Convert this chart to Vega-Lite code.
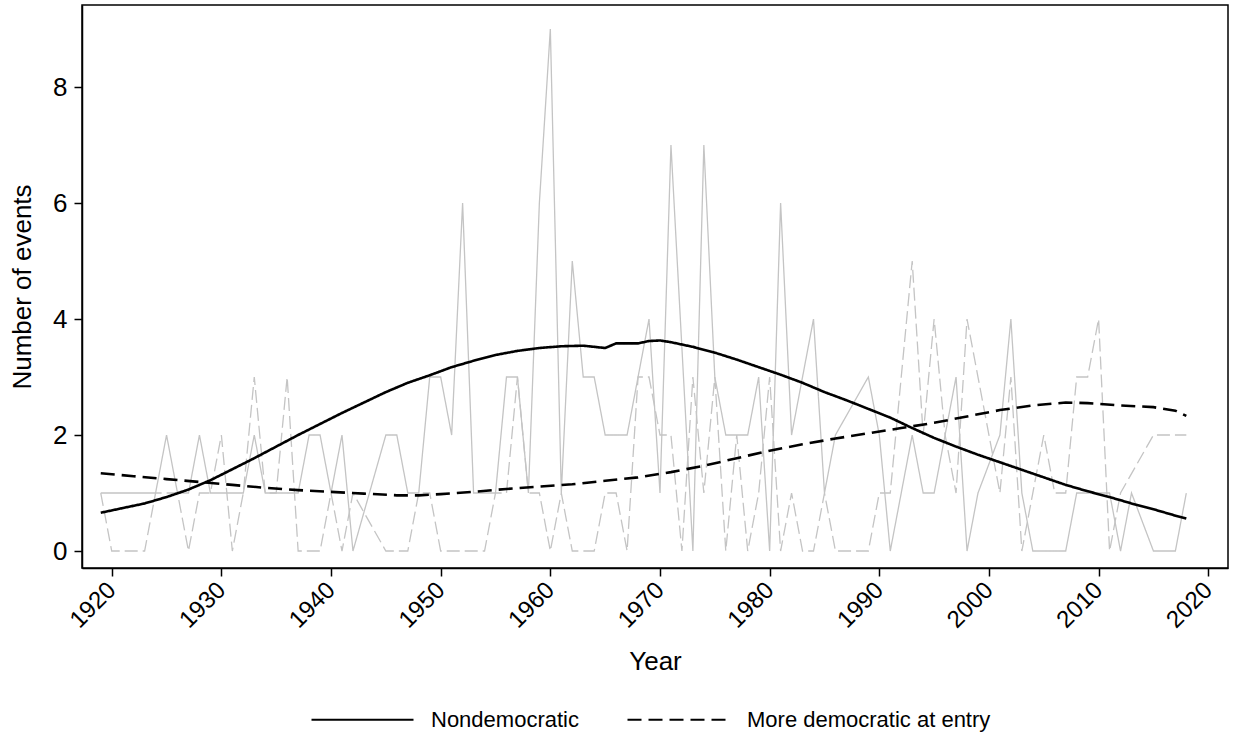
{
  "$schema": "https://vega.github.io/schema/vega-lite/v6.json",
  "width": 1146,
  "height": 563,
  "autosize": {"type": "none"},
  "padding": {"left": 82, "top": 5, "right": 9, "bottom": 167},
  "background": "white",
  "config": {
    "font": "Liberation Sans",
    "view": {"stroke": "black", "strokeWidth": 1.5},
    "axis": {
      "grid": false,
      "domainColor": "black",
      "domainWidth": 1.5,
      "tickColor": "black",
      "tickWidth": 1.5,
      "tickSize": 8,
      "labelColor": "black",
      "titleColor": "black",
      "labelFontSize": 24,
      "titleFontSize": 26,
      "titleFontWeight": "normal",
      "labelFont": "Liberation Sans",
      "titleFont": "Liberation Sans"
    },
    "legend": {
      "labelFont": "Liberation Sans",
      "labelFontSize": 22,
      "labelColor": "black",
      "labelLimit": 500
    }
  },
  "datasets": {
    "raw": [
      {"year": 1919, "value": 1, "series": "Nondemocratic"},
      {"year": 1920, "value": 1, "series": "Nondemocratic"},
      {"year": 1921, "value": 1, "series": "Nondemocratic"},
      {"year": 1922, "value": 1, "series": "Nondemocratic"},
      {"year": 1923, "value": 1, "series": "Nondemocratic"},
      {"year": 1924, "value": 1, "series": "Nondemocratic"},
      {"year": 1925, "value": 2, "series": "Nondemocratic"},
      {"year": 1926, "value": 1, "series": "Nondemocratic"},
      {"year": 1927, "value": 1, "series": "Nondemocratic"},
      {"year": 1928, "value": 2, "series": "Nondemocratic"},
      {"year": 1929, "value": 1, "series": "Nondemocratic"},
      {"year": 1930, "value": 1, "series": "Nondemocratic"},
      {"year": 1931, "value": 1, "series": "Nondemocratic"},
      {"year": 1932, "value": 1, "series": "Nondemocratic"},
      {"year": 1933, "value": 2, "series": "Nondemocratic"},
      {"year": 1934, "value": 1, "series": "Nondemocratic"},
      {"year": 1935, "value": 1, "series": "Nondemocratic"},
      {"year": 1936, "value": 1, "series": "Nondemocratic"},
      {"year": 1937, "value": 1, "series": "Nondemocratic"},
      {"year": 1938, "value": 2, "series": "Nondemocratic"},
      {"year": 1939, "value": 2, "series": "Nondemocratic"},
      {"year": 1940, "value": 1, "series": "Nondemocratic"},
      {"year": 1941, "value": 2, "series": "Nondemocratic"},
      {"year": 1942, "value": 0, "series": "Nondemocratic"},
      {"year": 1945, "value": 2, "series": "Nondemocratic"},
      {"year": 1946, "value": 2, "series": "Nondemocratic"},
      {"year": 1947, "value": 1, "series": "Nondemocratic"},
      {"year": 1948, "value": 1, "series": "Nondemocratic"},
      {"year": 1949, "value": 3, "series": "Nondemocratic"},
      {"year": 1950, "value": 3, "series": "Nondemocratic"},
      {"year": 1951, "value": 2, "series": "Nondemocratic"},
      {"year": 1952, "value": 6, "series": "Nondemocratic"},
      {"year": 1953, "value": 1, "series": "Nondemocratic"},
      {"year": 1954, "value": 1, "series": "Nondemocratic"},
      {"year": 1955, "value": 1, "series": "Nondemocratic"},
      {"year": 1956, "value": 3, "series": "Nondemocratic"},
      {"year": 1957, "value": 3, "series": "Nondemocratic"},
      {"year": 1958, "value": 1, "series": "Nondemocratic"},
      {"year": 1959, "value": 6, "series": "Nondemocratic"},
      {"year": 1960, "value": 9, "series": "Nondemocratic"},
      {"year": 1961, "value": 1, "series": "Nondemocratic"},
      {"year": 1962, "value": 5, "series": "Nondemocratic"},
      {"year": 1963, "value": 3, "series": "Nondemocratic"},
      {"year": 1964, "value": 3, "series": "Nondemocratic"},
      {"year": 1965, "value": 2, "series": "Nondemocratic"},
      {"year": 1966, "value": 2, "series": "Nondemocratic"},
      {"year": 1967, "value": 2, "series": "Nondemocratic"},
      {"year": 1968, "value": 3, "series": "Nondemocratic"},
      {"year": 1969, "value": 4, "series": "Nondemocratic"},
      {"year": 1970, "value": 1, "series": "Nondemocratic"},
      {"year": 1971, "value": 7, "series": "Nondemocratic"},
      {"year": 1973, "value": 0, "series": "Nondemocratic"},
      {"year": 1974, "value": 7, "series": "Nondemocratic"},
      {"year": 1975, "value": 3, "series": "Nondemocratic"},
      {"year": 1976, "value": 2, "series": "Nondemocratic"},
      {"year": 1977, "value": 2, "series": "Nondemocratic"},
      {"year": 1978, "value": 2, "series": "Nondemocratic"},
      {"year": 1979, "value": 3, "series": "Nondemocratic"},
      {"year": 1980, "value": 0, "series": "Nondemocratic"},
      {"year": 1981, "value": 6, "series": "Nondemocratic"},
      {"year": 1982, "value": 2, "series": "Nondemocratic"},
      {"year": 1983, "value": 3, "series": "Nondemocratic"},
      {"year": 1984, "value": 4, "series": "Nondemocratic"},
      {"year": 1985, "value": 1, "series": "Nondemocratic"},
      {"year": 1986, "value": 2, "series": "Nondemocratic"},
      {"year": 1989, "value": 3, "series": "Nondemocratic"},
      {"year": 1990, "value": 2, "series": "Nondemocratic"},
      {"year": 1991, "value": 0, "series": "Nondemocratic"},
      {"year": 1992, "value": 1, "series": "Nondemocratic"},
      {"year": 1993, "value": 2, "series": "Nondemocratic"},
      {"year": 1994, "value": 1, "series": "Nondemocratic"},
      {"year": 1995, "value": 1, "series": "Nondemocratic"},
      {"year": 1996, "value": 2, "series": "Nondemocratic"},
      {"year": 1997, "value": 3, "series": "Nondemocratic"},
      {"year": 1998, "value": 0, "series": "Nondemocratic"},
      {"year": 1999, "value": 1, "series": "Nondemocratic"},
      {"year": 2001, "value": 2, "series": "Nondemocratic"},
      {"year": 2002, "value": 4, "series": "Nondemocratic"},
      {"year": 2003, "value": 1, "series": "Nondemocratic"},
      {"year": 2004, "value": 0, "series": "Nondemocratic"},
      {"year": 2005, "value": 0, "series": "Nondemocratic"},
      {"year": 2006, "value": 0, "series": "Nondemocratic"},
      {"year": 2007, "value": 0, "series": "Nondemocratic"},
      {"year": 2008, "value": 1, "series": "Nondemocratic"},
      {"year": 2009, "value": 1, "series": "Nondemocratic"},
      {"year": 2010, "value": 1, "series": "Nondemocratic"},
      {"year": 2011, "value": 1, "series": "Nondemocratic"},
      {"year": 2012, "value": 0, "series": "Nondemocratic"},
      {"year": 2013, "value": 1, "series": "Nondemocratic"},
      {"year": 2015, "value": 0, "series": "Nondemocratic"},
      {"year": 2016, "value": 0, "series": "Nondemocratic"},
      {"year": 2017, "value": 0, "series": "Nondemocratic"},
      {"year": 2018, "value": 1, "series": "Nondemocratic"},
      {"year": 1919, "value": 1, "series": "More democratic at entry"},
      {"year": 1920, "value": 0, "series": "More democratic at entry"},
      {"year": 1921, "value": 0, "series": "More democratic at entry"},
      {"year": 1922, "value": 0, "series": "More democratic at entry"},
      {"year": 1923, "value": 0, "series": "More democratic at entry"},
      {"year": 1924, "value": 1, "series": "More democratic at entry"},
      {"year": 1925, "value": 1, "series": "More democratic at entry"},
      {"year": 1926, "value": 1, "series": "More democratic at entry"},
      {"year": 1927, "value": 0, "series": "More democratic at entry"},
      {"year": 1928, "value": 1, "series": "More democratic at entry"},
      {"year": 1929, "value": 1, "series": "More democratic at entry"},
      {"year": 1930, "value": 2, "series": "More democratic at entry"},
      {"year": 1931, "value": 0, "series": "More democratic at entry"},
      {"year": 1932, "value": 1, "series": "More democratic at entry"},
      {"year": 1933, "value": 3, "series": "More democratic at entry"},
      {"year": 1934, "value": 1, "series": "More democratic at entry"},
      {"year": 1935, "value": 1, "series": "More democratic at entry"},
      {"year": 1936, "value": 3, "series": "More democratic at entry"},
      {"year": 1937, "value": 0, "series": "More democratic at entry"},
      {"year": 1938, "value": 0, "series": "More democratic at entry"},
      {"year": 1939, "value": 0, "series": "More democratic at entry"},
      {"year": 1940, "value": 1, "series": "More democratic at entry"},
      {"year": 1941, "value": 0, "series": "More democratic at entry"},
      {"year": 1942, "value": 1, "series": "More democratic at entry"},
      {"year": 1945, "value": 0, "series": "More democratic at entry"},
      {"year": 1946, "value": 0, "series": "More democratic at entry"},
      {"year": 1947, "value": 0, "series": "More democratic at entry"},
      {"year": 1948, "value": 1, "series": "More democratic at entry"},
      {"year": 1949, "value": 1, "series": "More democratic at entry"},
      {"year": 1950, "value": 0, "series": "More democratic at entry"},
      {"year": 1951, "value": 0, "series": "More democratic at entry"},
      {"year": 1952, "value": 0, "series": "More democratic at entry"},
      {"year": 1953, "value": 0, "series": "More democratic at entry"},
      {"year": 1954, "value": 0, "series": "More democratic at entry"},
      {"year": 1955, "value": 1, "series": "More democratic at entry"},
      {"year": 1956, "value": 1, "series": "More democratic at entry"},
      {"year": 1957, "value": 3, "series": "More democratic at entry"},
      {"year": 1958, "value": 1, "series": "More democratic at entry"},
      {"year": 1959, "value": 1, "series": "More democratic at entry"},
      {"year": 1960, "value": 0, "series": "More democratic at entry"},
      {"year": 1961, "value": 1, "series": "More democratic at entry"},
      {"year": 1962, "value": 0, "series": "More democratic at entry"},
      {"year": 1963, "value": 0, "series": "More democratic at entry"},
      {"year": 1964, "value": 0, "series": "More democratic at entry"},
      {"year": 1965, "value": 1, "series": "More democratic at entry"},
      {"year": 1966, "value": 1, "series": "More democratic at entry"},
      {"year": 1967, "value": 0, "series": "More democratic at entry"},
      {"year": 1968, "value": 3, "series": "More democratic at entry"},
      {"year": 1969, "value": 3, "series": "More democratic at entry"},
      {"year": 1970, "value": 2, "series": "More democratic at entry"},
      {"year": 1971, "value": 2, "series": "More democratic at entry"},
      {"year": 1972, "value": 0, "series": "More democratic at entry"},
      {"year": 1973, "value": 3, "series": "More democratic at entry"},
      {"year": 1974, "value": 1, "series": "More democratic at entry"},
      {"year": 1975, "value": 3, "series": "More democratic at entry"},
      {"year": 1976, "value": 0, "series": "More democratic at entry"},
      {"year": 1977, "value": 2, "series": "More democratic at entry"},
      {"year": 1978, "value": 0, "series": "More democratic at entry"},
      {"year": 1979, "value": 1, "series": "More democratic at entry"},
      {"year": 1980, "value": 3, "series": "More democratic at entry"},
      {"year": 1981, "value": 0, "series": "More democratic at entry"},
      {"year": 1982, "value": 1, "series": "More democratic at entry"},
      {"year": 1983, "value": 0, "series": "More democratic at entry"},
      {"year": 1984, "value": 0, "series": "More democratic at entry"},
      {"year": 1985, "value": 1, "series": "More democratic at entry"},
      {"year": 1986, "value": 0, "series": "More democratic at entry"},
      {"year": 1987, "value": 0, "series": "More democratic at entry"},
      {"year": 1988, "value": 0, "series": "More democratic at entry"},
      {"year": 1989, "value": 0, "series": "More democratic at entry"},
      {"year": 1990, "value": 1, "series": "More democratic at entry"},
      {"year": 1991, "value": 1, "series": "More democratic at entry"},
      {"year": 1992, "value": 3, "series": "More democratic at entry"},
      {"year": 1993, "value": 5, "series": "More democratic at entry"},
      {"year": 1994, "value": 2, "series": "More democratic at entry"},
      {"year": 1995, "value": 4, "series": "More democratic at entry"},
      {"year": 1996, "value": 2, "series": "More democratic at entry"},
      {"year": 1997, "value": 1, "series": "More democratic at entry"},
      {"year": 1998, "value": 4, "series": "More democratic at entry"},
      {"year": 1999, "value": 3, "series": "More democratic at entry"},
      {"year": 2000, "value": 2, "series": "More democratic at entry"},
      {"year": 2001, "value": 1, "series": "More democratic at entry"},
      {"year": 2002, "value": 3, "series": "More democratic at entry"},
      {"year": 2003, "value": 0, "series": "More democratic at entry"},
      {"year": 2004, "value": 1, "series": "More democratic at entry"},
      {"year": 2005, "value": 2, "series": "More democratic at entry"},
      {"year": 2006, "value": 1, "series": "More democratic at entry"},
      {"year": 2007, "value": 1, "series": "More democratic at entry"},
      {"year": 2008, "value": 3, "series": "More democratic at entry"},
      {"year": 2009, "value": 3, "series": "More democratic at entry"},
      {"year": 2010, "value": 4, "series": "More democratic at entry"},
      {"year": 2011, "value": 0, "series": "More democratic at entry"},
      {"year": 2012, "value": 1, "series": "More democratic at entry"},
      {"year": 2015, "value": 2, "series": "More democratic at entry"},
      {"year": 2016, "value": 2, "series": "More democratic at entry"},
      {"year": 2017, "value": 2, "series": "More democratic at entry"},
      {"year": 2018, "value": 2, "series": "More democratic at entry"}
    ],
    "smooth": [
      {"year": 1919, "value": 0.66, "series": "Nondemocratic"},
      {"year": 1921, "value": 0.74, "series": "Nondemocratic"},
      {"year": 1923, "value": 0.82, "series": "Nondemocratic"},
      {"year": 1925, "value": 0.93, "series": "Nondemocratic"},
      {"year": 1927, "value": 1.06, "series": "Nondemocratic"},
      {"year": 1929, "value": 1.22, "series": "Nondemocratic"},
      {"year": 1931, "value": 1.41, "series": "Nondemocratic"},
      {"year": 1933, "value": 1.6, "series": "Nondemocratic"},
      {"year": 1935, "value": 1.8, "series": "Nondemocratic"},
      {"year": 1937, "value": 2.0, "series": "Nondemocratic"},
      {"year": 1939, "value": 2.19, "series": "Nondemocratic"},
      {"year": 1941, "value": 2.38, "series": "Nondemocratic"},
      {"year": 1943, "value": 2.56, "series": "Nondemocratic"},
      {"year": 1945, "value": 2.74, "series": "Nondemocratic"},
      {"year": 1947, "value": 2.9, "series": "Nondemocratic"},
      {"year": 1949, "value": 3.03, "series": "Nondemocratic"},
      {"year": 1951, "value": 3.17, "series": "Nondemocratic"},
      {"year": 1953, "value": 3.28, "series": "Nondemocratic"},
      {"year": 1955, "value": 3.38, "series": "Nondemocratic"},
      {"year": 1957, "value": 3.45, "series": "Nondemocratic"},
      {"year": 1959, "value": 3.5, "series": "Nondemocratic"},
      {"year": 1961, "value": 3.53, "series": "Nondemocratic"},
      {"year": 1963, "value": 3.54, "series": "Nondemocratic"},
      {"year": 1965, "value": 3.5, "series": "Nondemocratic"},
      {"year": 1966, "value": 3.58, "series": "Nondemocratic"},
      {"year": 1968, "value": 3.58, "series": "Nondemocratic"},
      {"year": 1969, "value": 3.62, "series": "Nondemocratic"},
      {"year": 1970, "value": 3.63, "series": "Nondemocratic"},
      {"year": 1971, "value": 3.6, "series": "Nondemocratic"},
      {"year": 1973, "value": 3.52, "series": "Nondemocratic"},
      {"year": 1975, "value": 3.42, "series": "Nondemocratic"},
      {"year": 1977, "value": 3.3, "series": "Nondemocratic"},
      {"year": 1979, "value": 3.17, "series": "Nondemocratic"},
      {"year": 1981, "value": 3.04, "series": "Nondemocratic"},
      {"year": 1983, "value": 2.9, "series": "Nondemocratic"},
      {"year": 1985, "value": 2.74, "series": "Nondemocratic"},
      {"year": 1987, "value": 2.6, "series": "Nondemocratic"},
      {"year": 1989, "value": 2.45, "series": "Nondemocratic"},
      {"year": 1991, "value": 2.3, "series": "Nondemocratic"},
      {"year": 1993, "value": 2.12, "series": "Nondemocratic"},
      {"year": 1995, "value": 1.95, "series": "Nondemocratic"},
      {"year": 1997, "value": 1.8, "series": "Nondemocratic"},
      {"year": 1999, "value": 1.66, "series": "Nondemocratic"},
      {"year": 2001, "value": 1.53, "series": "Nondemocratic"},
      {"year": 2003, "value": 1.4, "series": "Nondemocratic"},
      {"year": 2005, "value": 1.27, "series": "Nondemocratic"},
      {"year": 2007, "value": 1.14, "series": "Nondemocratic"},
      {"year": 2009, "value": 1.03, "series": "Nondemocratic"},
      {"year": 2011, "value": 0.93, "series": "Nondemocratic"},
      {"year": 2013, "value": 0.82, "series": "Nondemocratic"},
      {"year": 2015, "value": 0.72, "series": "Nondemocratic"},
      {"year": 2017, "value": 0.61, "series": "Nondemocratic"},
      {"year": 2018, "value": 0.56, "series": "Nondemocratic"},
      {"year": 1919, "value": 1.34, "series": "More democratic at entry"},
      {"year": 1922, "value": 1.29, "series": "More democratic at entry"},
      {"year": 1925, "value": 1.24, "series": "More democratic at entry"},
      {"year": 1928, "value": 1.19, "series": "More democratic at entry"},
      {"year": 1931, "value": 1.14, "series": "More democratic at entry"},
      {"year": 1934, "value": 1.09, "series": "More democratic at entry"},
      {"year": 1937, "value": 1.05, "series": "More democratic at entry"},
      {"year": 1940, "value": 1.02, "series": "More democratic at entry"},
      {"year": 1943, "value": 0.99, "series": "More democratic at entry"},
      {"year": 1946, "value": 0.96, "series": "More democratic at entry"},
      {"year": 1948, "value": 0.96, "series": "More democratic at entry"},
      {"year": 1950, "value": 0.98, "series": "More democratic at entry"},
      {"year": 1953, "value": 1.02, "series": "More democratic at entry"},
      {"year": 1956, "value": 1.07, "series": "More democratic at entry"},
      {"year": 1959, "value": 1.11, "series": "More democratic at entry"},
      {"year": 1962, "value": 1.15, "series": "More democratic at entry"},
      {"year": 1965, "value": 1.21, "series": "More democratic at entry"},
      {"year": 1968, "value": 1.27, "series": "More democratic at entry"},
      {"year": 1971, "value": 1.36, "series": "More democratic at entry"},
      {"year": 1974, "value": 1.47, "series": "More democratic at entry"},
      {"year": 1977, "value": 1.6, "series": "More democratic at entry"},
      {"year": 1980, "value": 1.73, "series": "More democratic at entry"},
      {"year": 1983, "value": 1.84, "series": "More democratic at entry"},
      {"year": 1986, "value": 1.94, "series": "More democratic at entry"},
      {"year": 1989, "value": 2.03, "series": "More democratic at entry"},
      {"year": 1992, "value": 2.12, "series": "More democratic at entry"},
      {"year": 1995, "value": 2.21, "series": "More democratic at entry"},
      {"year": 1998, "value": 2.32, "series": "More democratic at entry"},
      {"year": 2001, "value": 2.43, "series": "More democratic at entry"},
      {"year": 2004, "value": 2.51, "series": "More democratic at entry"},
      {"year": 2007, "value": 2.56, "series": "More democratic at entry"},
      {"year": 2009, "value": 2.55, "series": "More democratic at entry"},
      {"year": 2012, "value": 2.51, "series": "More democratic at entry"},
      {"year": 2015, "value": 2.48, "series": "More democratic at entry"},
      {"year": 2017, "value": 2.42, "series": "More democratic at entry"},
      {"year": 2018, "value": 2.33, "series": "More democratic at entry"}
    ]
  },
  "layer": [
    {
      "data": {"name": "raw"},
      "mark": {"type": "line", "color": "#c4c4c4", "strokeWidth": 1.3},
      "encoding": {
        "x": {
          "field": "year",
          "type": "quantitative",
          "scale": {"domain": [1917.29, 2021.8], "nice": false, "zero": false},
          "axis": {
            "values": [1920, 1930, 1940, 1950, 1960, 1970, 1980, 1990, 2000, 2010, 2020],
            "format": "d",
            "labelAngle": -45,
            "labelAlign": "right",
            "labelBaseline": "middle",
            "labelPadding": 10,
            "title": "Year",
            "titlePadding": 16
          }
        },
        "y": {
          "field": "value",
          "type": "quantitative",
          "scale": {"domain": [-0.293, 9.414], "nice": false, "zero": false},
          "axis": {
            "values": [0, 2, 4, 6, 8],
            "format": "d",
            "labelFontSize": 26,
            "labelPadding": 7,
            "title": "Number of events",
            "titlePadding": 17
          }
        },
        "strokeDash": {
          "field": "series",
          "type": "nominal",
          "scale": {
            "domain": ["Nondemocratic", "More democratic at entry"],
            "range": [[1, 0], [13, 5]]
          },
          "legend": null
        }
      }
    },
    {
      "data": {"name": "smooth"},
      "mark": {"type": "line", "color": "black", "strokeWidth": 2.6},
      "encoding": {
        "x": {"field": "year", "type": "quantitative"},
        "y": {"field": "value", "type": "quantitative"},
        "strokeDash": {
          "field": "series",
          "type": "nominal",
          "scale": {
            "domain": ["Nondemocratic", "More democratic at entry"],
            "range": [[1, 0], [14, 7]]
          },
          "legend": {
            "title": null,
            "orient": "none",
            "direction": "horizontal",
            "legendX": 228,
            "legendY": 662,
            "symbolType": "stroke",
            "symbolSize": 10404,
            "symbolStrokeWidth": 2.2,
            "symbolStrokeColor": "black",
            "labelOffset": 16,
            "columnPadding": 44
          }
        }
      }
    }
  ],
  "resolve": {"scale": {"strokeDash": "independent"}}
}
